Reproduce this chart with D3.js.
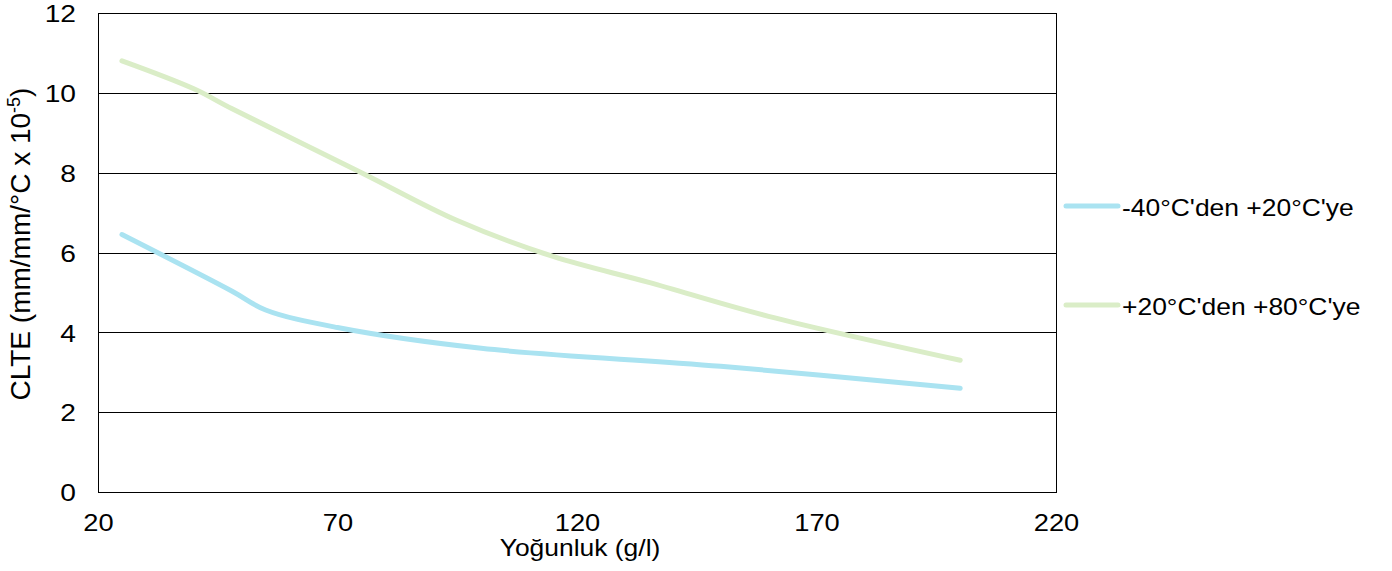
<!DOCTYPE html>
<html>
<head>
<meta charset="utf-8">
<script src="https://cdn.jsdelivr.net/npm/d3@7"></script>
<style>
  body { margin: 0; background: #fff; }
  svg { display: block; font-family: "Liberation Sans", Arial, sans-serif; }
</style>
</head>
<body>
<div id="chart"></div>
<script>
// Data
const seriesNames = ["-40°C'den +20°C'ye", "+20°C'den +80°C'ye"];
const seriesColors = ["#aae3f1", "#daedc7"];
const blueX = [25, 48, 55, 70, 100, 150, 200];
const blueY = [6.45, 5.03, 4.56, 4.12, 3.6, 3.15, 2.6];
const greenX = [25, 40, 48, 75, 95, 115, 135, 160, 200];
const greenY = [10.8, 10.1, 9.6, 8.0, 6.8, 5.9, 5.25, 4.4, 3.3];
const xTicks = [20, 70, 120, 170, 220];
const yTicks = [0, 2, 4, 6, 8, 10, 12];

const W = 1392, H = 571;
const m = { left: 98, right: 1056, top: 13, bottom: 492 };

const svg = d3.select("#chart").append("svg").attr("width", W).attr("height", H);

const x = d3.scaleLinear().domain([20, 220]).range([m.left, m.right]);
const y = d3.scaleLinear().domain([0, 12]).range([m.bottom, m.top]);

// gridlines
svg.append("g").selectAll("line").data(yTicks.filter(d => d > 0)).join("line")
  .attr("x1", m.left).attr("x2", m.right)
  .attr("y1", d => Math.round(y(d)) + 0.5).attr("y2", d => Math.round(y(d)) + 0.5)
  .attr("stroke", "#000").attr("stroke-width", 1);

// plot border
svg.append("rect")
  .attr("x", m.left + 0.5).attr("y", m.top + 0.5)
  .attr("width", m.right - m.left).attr("height", m.bottom - m.top)
  .attr("fill", "none").attr("stroke", "#000").attr("stroke-width", 1);

// axes
const ySX = 1.15;
const yAxis = svg.append("g").attr("transform", `translate(${m.left},0)`)
  .call(d3.axisLeft(y).tickValues(yTicks).tickSize(0).tickFormat(d3.format("d")));
yAxis.select(".domain").remove();
yAxis.selectAll("text")
  .attr("font-size", 24.5).attr("fill", "#000").attr("font-family", "Liberation Sans, Arial, sans-serif")
  .attr("x", -22 / ySX).attr("dy", "0.36em")
  .attr("transform", `scale(${ySX},1)`);

const xAxis = svg.append("g").attr("transform", `translate(0,${m.bottom})`)
  .call(d3.axisBottom(x).tickValues(xTicks).tickSize(0).tickFormat(d3.format("d")));
xAxis.select(".domain").remove();
xAxis.selectAll("text")
  .attr("font-size", 23.5).attr("fill", "#000").attr("font-family", "Liberation Sans, Arial, sans-serif")
  .attr("y", 39).attr("dy", null)
  .attr("transform", "scale(1.16,1)");

// axis titles
svg.append("g").attr("transform", "translate(580,556) scale(1.15,1)")
  .append("text").attr("text-anchor", "middle").attr("font-size", 23).text("Yoğunluk (g/l)");

const yt = svg.append("text")
  .attr("transform", "translate(30,244) rotate(-90)")
  .attr("text-anchor", "middle").attr("font-size", 28);
yt.append("tspan").text("CLTE (mm/mm/°C x 10");
yt.append("tspan").attr("font-size", 18).attr("dy", -10).text("-5");
yt.append("tspan").attr("dy", 10).text(")");

// lines
const line = d3.line().x(d => x(d[0])).y(d => y(d[1])).curve(d3.curveCatmullRom.alpha(0.5));
const series = [
  d3.zip(blueX, blueY),
  d3.zip(greenX, greenY)
];
svg.append("g").selectAll("path").data(series).join("path")
  .attr("d", line)
  .attr("fill", "none")
  .attr("stroke", (d, i) => seriesColors[i])
  .attr("stroke-width", 5)
  .attr("stroke-linecap", "round")
  .attr("stroke-linejoin", "round");

// legend
const legY = [206, 305];
const leg = svg.append("g").selectAll("g").data(seriesNames).join("g")
  .attr("transform", (d, i) => `translate(0,${legY[i]})`);
leg.append("line").attr("x1", 1066).attr("x2", 1118).attr("y1", 0).attr("y2", 0)
  .attr("stroke", (d, i) => seriesColors[i]).attr("stroke-width", 5).attr("stroke-linecap", "round");
leg.append("g").attr("transform", "translate(1122,10) scale(1.15,1)")
  .append("text").attr("font-size", 23).text(d => d);
</script>
</body>
</html>
